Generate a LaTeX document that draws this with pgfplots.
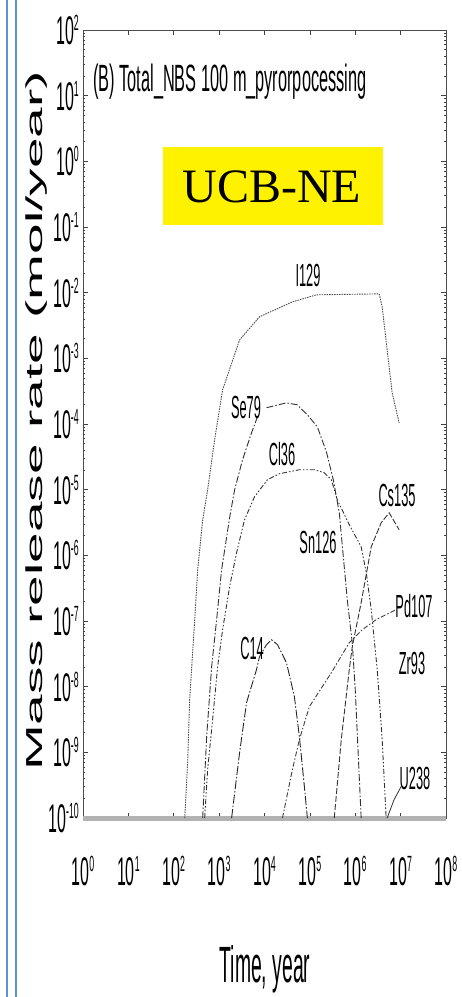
\documentclass[border=0pt]{standalone}
\usepackage{fontspec}
\setmainfont{Liberation Sans}
\newfontfamily\seriffont{Liberation Serif}
\usepackage{graphicx}
\usepackage{pgfplots}
\pgfplotsset{compat=1.18}
\definecolor{slideblue}{RGB}{95,145,205}
\newcommand{\tk}[1]{\scalebox{0.4}[1]{\fontsize{40}{40}\selectfont 10\raisebox{14pt}{\fontsize{22}{22}\selectfont #1}}}
\newcommand{\lab}[1]{\scalebox{0.4}[1]{\fontsize{32}{32}\selectfont #1}}
\begin{document}
\begin{tikzpicture}[x=1pt,y=1pt]
\useasboundingbox (0,0) rectangle (461,997);
\fill[white] (0,0) rectangle (461,997);
\draw[slideblue, line width=1.6pt] (7,0)--(7,997);
\draw[slideblue, line width=1.6pt] (16,0)--(16,997);
\begin{axis}[
  at={(83pt,179pt)}, anchor=south west, scale only axis,
  width=363pt, height=788pt,
  xmode=log, ymode=log,
  xmin=1, xmax=1e8, ymin=1e-10, ymax=1e2,
  xtick={1,10,100,1000,1e4,1e5,1e6,1e7,1e8},
  xticklabels={\tk{0},\tk{1},\tk{2},\tk{3},\tk{4},\tk{5},\tk{6},\tk{7},\tk{8}},
  ytick={1e-10,1e-9,1e-8,1e-7,1e-6,1e-5,1e-4,1e-3,1e-2,1e-1,1,10,100},
  yticklabels={\tk{-10},\tk{-9},\tk{-8},\tk{-7},\tk{-6},\tk{-5},\tk{-4},\tk{-3},\tk{-2},\tk{-1},\tk{0},\tk{1},\tk{2}},
  xminorticks=false,
  tick align=inside, major tick length=5pt, minor tick length=2.5pt,
  axis line style={black!70, line width=0.8pt},
  every tick/.style={black!75, line width=0.6pt},
  xticklabel style={anchor=north, inner sep=0pt, yshift=-38pt},
  yticklabel style={anchor=east, inner sep=0pt, xshift=-4pt},
  clip=false,
]
% floor line
\addplot[gray!60, line width=5pt] coordinates {(1,1e-10) (1e8,1e-10)};
% I129
\addplot[black!70, line width=0.9pt, dash pattern=on 1.5pt off 1pt] coordinates {
(175,1e-10) (204,7.94e-10) (224,6.31e-9) (249,2.01e-8) (290,1.05e-7) (337,6.04e-7)
(434,3.48e-6) (558,9.95e-6) (796,5.75e-5) (1194,3.32e-4) (2825,1.91e-3) (7762,4.29e-3)
(41210,7.24e-3) (1.39e5,9.27e-3) (3.37e6,9.59e-3) (3.92e6,6.08e-3) (6.50e6,2.99e-4) (9.27e6,1.04e-4)};
% Se79
\addplot[black!80, line width=0.9pt, dash pattern=on 7pt off 2pt on 1.5pt off 2pt] coordinates {
(434,1e-10) (531,1.73e-9) (684,2.01e-8) (881,1.05e-7) (1135,6.04e-7) (1702,3.73e-6)
(2193,9.95e-6) (3281,2.85e-5) (5176,7.35e-5) (7015,1.29e-4)};
\addplot[black!80, line width=0.9pt, dash pattern=on 7pt off 2pt on 1.5pt off 2pt] coordinates {
(11070,1.77e-4) (30480,2.10e-4) (53090,1.96e-4) (88100,1.38e-4) (1.46e5,9.06e-5)
(2.31e5,3.78e-5) (3.28e5,1.42e-5) (4.45e5,4.45e-6) (6.67e5,2.11e-7) (8.59e5,4.68e-8)
(1.0e6,9.0e-9) (1.35e6,1e-10)};
% Cl36
\addplot[black!80, line width=0.9pt, dash pattern=on 5pt off 2pt on 1.5pt off 2pt on 1.5pt off 2pt] coordinates {
(480,1e-10) (558,5.46e-10) (719,3.15e-9) (927,2.01e-8) (1194,7.38e-8) (1702,3.33e-7)
(2427,1.10e-6) (3631,3.48e-6) (6026,7.80e-6) (11640,1.42e-5) (21380,1.75e-5)
(58750,2.01e-5) (1.26e5,2.01e-5) (2.08e5,1.81e-5) (2.97e5,1.42e-5) (4.02e5,7.02e-6)
(7.38e5,2.92e-6) (1.35e6,1.35e-6) (1.75e6,5.43e-7) (2.25e6,1.49e-7) (3.05e6,1.82e-8)
(3.92e6,1.56e-9) (4.80e6,1e-10)};
% C14
\addplot[black!85, line width=0.9pt, dash pattern=on 9pt off 2pt on 1.5pt off 2pt] coordinates {
(1884,1e-10) (2825,9.89e-10) (4018,5.70e-9) (4677,8.11e-9) (6668,1.82e-8) (7762,2.86e-8)
(11070,4.36e-8) (14260,5.19e-8) (19320,4.36e-8) (30480,2.32e-8) (45600,7.05e-9)
(58750,1.73e-9) (75680,3.01e-10) (88100,1e-10)};
% Pd107
\addplot[black!75, line width=0.9pt, dash pattern=on 5pt off 2pt on 1.5pt off 2pt] coordinates {
(24890,1e-10) (41210,5.46e-10) (58750,1.56e-9) (97500,4.97e-9) (2.97e5,1.63e-8)
(7.38e5,4.68e-8) (1.43e6,7.38e-8) (2.90e6,1.05e-7) (7.96e6,1.49e-7)};
% Cs135
\addplot[black!80, line width=0.9pt, dash pattern=on 6pt off 2pt] coordinates {
(3.45e5,1e-10) (4.92e5,1.56e-9) (7.38e5,1.82e-8) (8.59e5,4.06e-8) (1.35e6,1.90e-7)
(2.25e6,1.35e-6) (3.72e6,3.13e-6) (5.58e6,4.45e-6) (9.27e6,2.45e-6)};
% U238
\addplot[black!80, line width=0.8pt] coordinates {
(5.05e6,1e-10) (7.19e6,1.91e-10) (1.026e7,3.01e-10)};
\end{axis}
% title
\node[anchor=base west, inner sep=0pt] at (93,905) {\scalebox{0.43}[1]{\fontsize{38}{38}\selectfont (B) Total\_NBS 100 m\_pyrorpocessing}};
% yellow box
\fill[yellow] (163,772) rectangle (383,850);
\node[anchor=base, inner sep=0pt] at (272,794) {\seriffont\fontsize{48}{48}\selectfont UCB-NE};
% curve labels
\node[inner sep=0pt] at (308,722) {\lab{I129}};
\node[inner sep=0pt] at (246,590) {\lab{Se79}};
\node[inner sep=0pt] at (282,543) {\lab{Cl36}};
\node[inner sep=0pt] at (397,502) {\lab{Cs135}};
\node[inner sep=0pt] at (318,455) {\lab{Sn126}};
\node[inner sep=0pt] at (414,391) {\lab{Pd107}};
\node[inner sep=0pt] at (412,334) {\lab{Zr93}};
\node[inner sep=0pt] at (252,349) {\lab{C14}};
\node[inner sep=0pt] at (415,219) {\lab{U238}};
% axis labels
\node[anchor=base, inner sep=0pt] at (265,14) {\scalebox{0.38}[1]{\fontsize{51}{51}\selectfont Time, year}};
\node[anchor=base, inner sep=0pt, rotate=90] at (42,576) {\scalebox{1}[0.42]{\fontsize{55}{55}\selectfont Mass release rate (mol/year)}};
\end{tikzpicture}
\end{document}
